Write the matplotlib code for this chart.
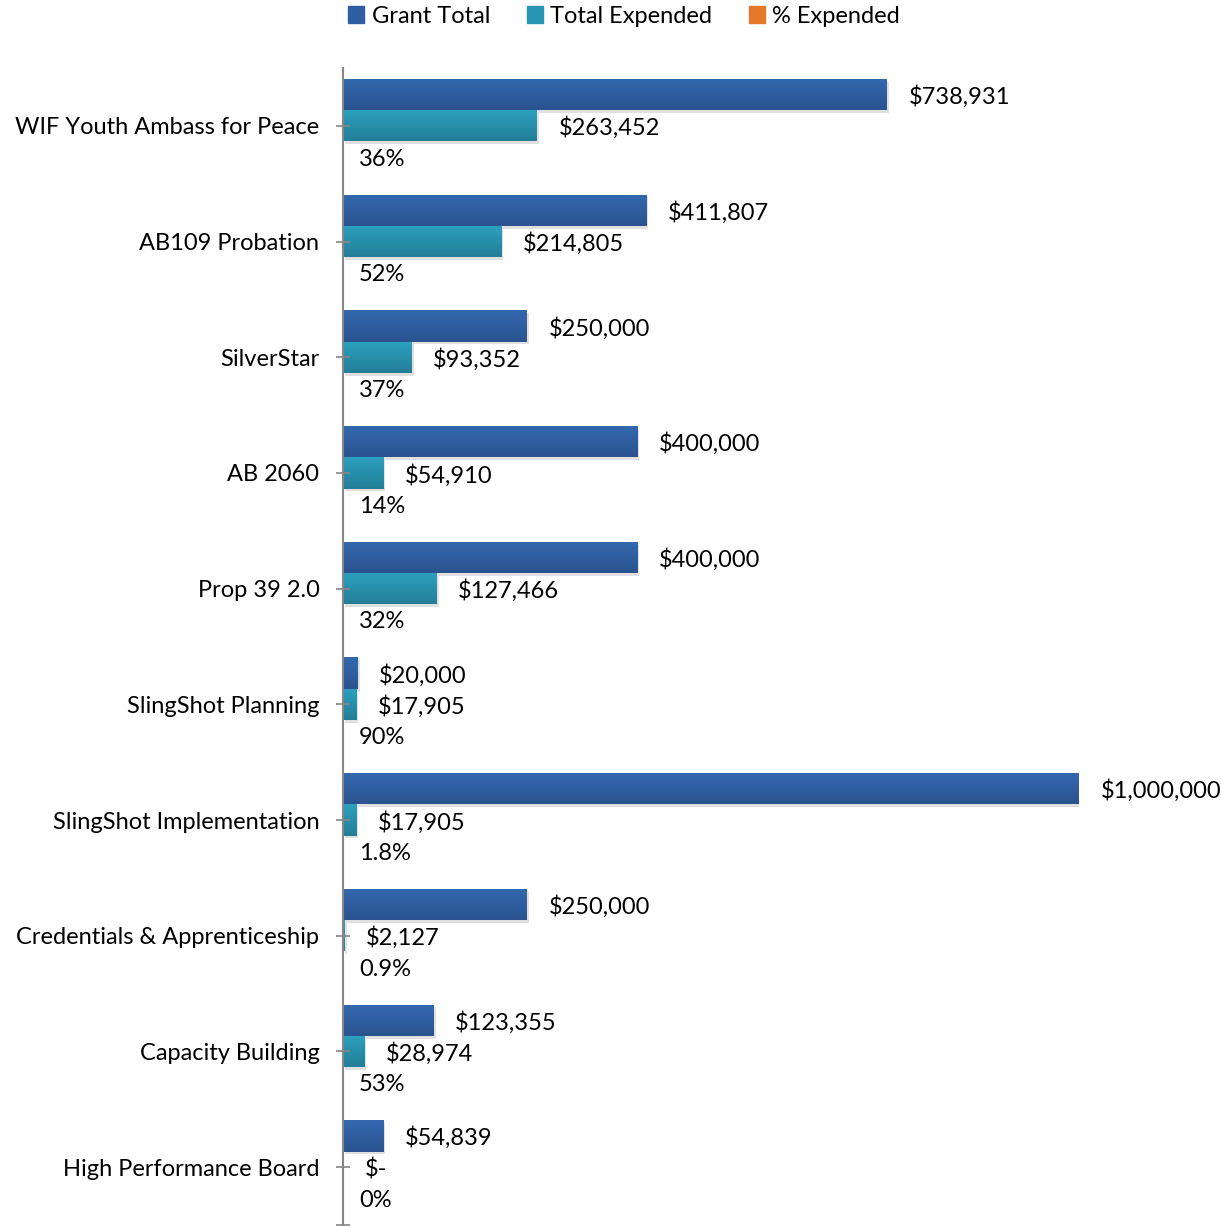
import numpy as np
import matplotlib.pyplot as plt
import matplotlib.patches as mpatches
import matplotlib.patheffects as pe
from matplotlib.colors import LinearSegmentedColormap

plt.rcParams['font.family'] = ['Lato', 'DejaVu Sans']

cats = ["WIF Youth Ambass for Peace", "AB109 Probation", "SilverStar", "AB 2060",
        "Prop 39 2.0", "SlingShot Planning", "SlingShot Implementation",
        "Credentials & Apprenticeship", "Capacity Building", "High Performance Board"]
grant = [738931, 411807, 250000, 400000, 400000, 20000, 1000000, 250000, 123355, 54839]
expended = [263452, 214805, 93352, 54910, 127466, 17905, 17905, 2127, 28974, 0]
pct = [0.36, 0.52, 0.37, 0.14, 0.32, 0.90, 0.018, 0.009, 0.53, 0.0]

c_grant = '#2F5EA2'
c_exp = '#2896B3'
c_pct = '#E5792A'
cm_grant = LinearSegmentedColormap.from_list('g', ['#3469B0', '#2A538F'])
cm_exp = LinearSegmentedColormap.from_list('e', ['#2CA1C0', '#237E97'])

def money(v):
    return "$-" if v == 0 else "${:,.0f}".format(v)

def percent(v):
    p = v * 100
    if p == 0 or p >= 10:
        return "{:.0f}%".format(p)
    return "{:.1f}%".format(p)

W, H = 1221, 1226
fig = plt.figure(figsize=(W/100, H/100), dpi=100)
ax = fig.add_axes([343/W, 1 - 1225/H, (1079-343)/W, (1225-68)/H])

y = np.arange(len(cats))
h = 0.27
shadow = [pe.SimplePatchShadow(offset=(1.5, -2), alpha=0.18, shadow_rgbFace='#555555'), pe.Normal()]
b1 = ax.barh(y - h, grant, height=h, color=c_grant, path_effects=shadow)
b2 = ax.barh(y, expended, height=h, color=c_exp, path_effects=shadow)
b3 = ax.barh(y + h, pct, height=h, color=c_pct)

# vertical gradient fill on each bar
grad = np.linspace(0, 1, 64).reshape(-1, 1)
for bars, cm in ((b1, cm_grant), (b2, cm_exp)):
    for r in bars:
        x0, yb, w, hh = r.get_x(), r.get_y(), r.get_width(), r.get_height()
        if w <= 0:
            continue
        im = ax.imshow(grad, cmap=cm, aspect='auto', origin='upper',
                       extent=(x0, x0 + w, yb + hh, yb), zorder=r.get_zorder() + 0.1)
        im.set_clip_path(r)

fs = 17
for i in range(len(cats)):
    ax.annotate(money(grant[i]), (grant[i], y[i] - h), xytext=(15.5, -1.5),
                textcoords='offset points', va='center', ha='left', fontsize=fs,
                annotation_clip=False)
    ax.annotate(money(expended[i]), (expended[i], y[i]), xytext=(15.5, -1.5),
                textcoords='offset points', va='center', ha='left', fontsize=fs,
                annotation_clip=False)
    ax.annotate(percent(pct[i]), (pct[i], y[i] + h), xytext=(11.5, -1.5),
                textcoords='offset points', va='center', ha='left', fontsize=fs,
                annotation_clip=False)

ax.set_xlim(0, 1000000)
ax.set_ylim(9.5, -0.5)
ax.set_yticks(y)
ax.set_yticklabels(cats, fontsize=fs)
ax.set_yticks([9.5], minor=True)
ax.tick_params(axis='y', which='both', direction='inout', length=10, width=1.2,
               color='#868686', pad=12)
ax.set_xticks([])
for s in ['top', 'right', 'bottom']:
    ax.spines[s].set_visible(False)
ax.spines['left'].set_color('#868686')
ax.spines['left'].set_linewidth(1.5)

handles = [mpatches.Patch(color=c_grant, label='Grant Total'),
           mpatches.Patch(color=c_exp, label='Total Expended'),
           mpatches.Patch(color=c_pct, label='% Expended')]
fig.legend(handles=handles, loc='upper center', bbox_to_anchor=(624/W, 1.003),
           ncol=3, frameon=False, fontsize=fs, handlelength=0.7, handleheight=0.7,
           handletextpad=0.3, columnspacing=1.55, borderaxespad=0.0)

fig.savefig('out.png', dpi=100)
